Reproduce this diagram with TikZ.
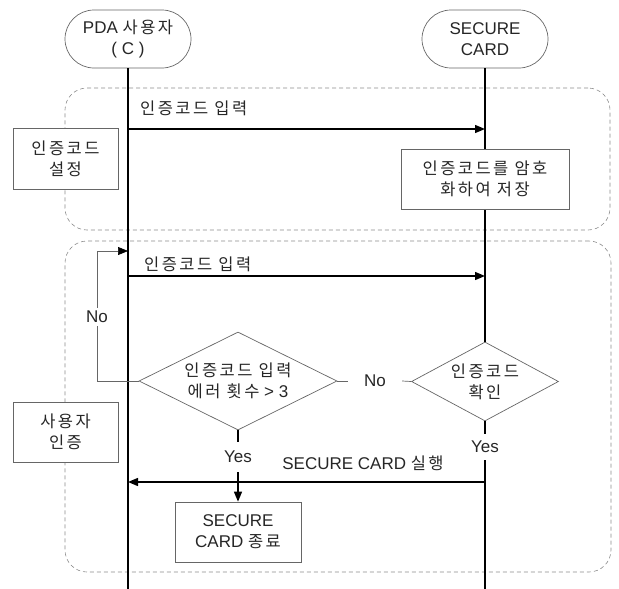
\documentclass[tikz,border=0pt]{standalone}
\usepackage{fontspec}
\setmainfont{Liberation Sans}
\newfontfamily\kr{Noto Sans CJK KR}[LetterSpace=15, Scale=0.97]
\usetikzlibrary{arrows.meta,shapes.geometric}
\begin{document}
\begin{tikzpicture}[x=1pt,y=-1pt,
  font=\fontsize{17}{21}\selectfont,
  every node/.style={text=black!85},
  actor/.style={draw=black!60, line width=0.7pt, rounded corners=29pt, minimum width=126pt, minimum height=58pt, align=center, inner sep=0pt, fill=white},
  life/.style={line width=1.4pt, black},
  msg/.style={line width=1.4pt, black, -{Triangle[length=10pt,width=8pt]}},
  thinln/.style={line width=0.7pt, black!60},
  loopar/.style={line width=0.7pt, black!60, -{Triangle[length=10pt,width=8pt,color=black]}},
  stepbox/.style={draw=black!60, line width=0.7pt, fill=white, align=center, inner sep=0pt},
  group/.style={draw=black!45, line width=0.6pt, dash pattern=on 4pt off 3pt, rounded corners=22pt, inner sep=0pt},
  dec/.style={diamond, draw=black!60, line width=0.7pt, fill=white, align=center, inner sep=0pt},
  lbl/.style={inner sep=1pt}
]
\useasboundingbox (0,0) rectangle (619,589);

% groups
\node[group, minimum width=545pt, minimum height=142pt] (g1) at (337.5,159) {};
\node[group, minimum width=546pt, minimum height=331pt] (g2) at (338,406.5) {};

% actors
\node[actor] (pda) at (128,39) {PDA {\kr 사용자}\\( C )};
\node[actor] (card) at (485,39) {SECURE\\CARD};

% decisions and helper nodes
\node[dec, aspect=2, minimum width=198pt, minimum height=98pt] (d1) at (238,381) {{\kr 인증코드 입력}\\{\kr 에러 횟수} > 3};
\node[dec, aspect=1.8, minimum width=147pt, minimum height=79pt] (d2) at (485,381.5) {{\kr 인증코드}\\{\kr 확인}};
\node[lbl, fill=white, inner ysep=3pt] (no1) at (97,317) {No};
\node[lbl, inner xsep=0pt, minimum width=54pt] (no2) at (375,381) {No};
\node[lbl, minimum height=30pt] (yes1) at (238,457) {Yes};
\node[lbl, minimum height=26pt] (yes2) at (485,447) {Yes};

% lifelines
\coordinate (pdaend) at (128,589);
\coordinate (cardend) at (485,589);
\draw[life] (pda.south) -- (pdaend);
\draw[life] (card.south) -- (d2.north);
\draw[life] (d2.south) -- (yes2.north);
\draw[life] (yes2.south) -- (cardend);

% messages
\coordinate (m1s) at (128,129);
\coordinate (m1e) at (485,129);
\draw[msg] (m1s) -- (m1e);
\node[lbl, anchor=west] (m1l) at (139,108) {\kr 인증코드 입력};

\coordinate (m2s) at (128,276);
\coordinate (m2e) at (485,276);
\draw[msg] (m2s) -- (m2e);
\node[lbl, anchor=west] (m2l) at (143,264) {\kr 인증코드 입력};

\coordinate (m3s) at (485,482);
\coordinate (m3e) at (128,482);
\draw[msg] (m3s) -- (m3e);
\node[lbl] (m3l) at (363,463) {SECURE CARD {\kr 실행}};

% loop back
\coordinate (loopend) at (128,251);
\draw[thinln] (d1.west) -| (no1.south);
\draw[loopar] (no1.north) |- (loopend);

% No between decisions
\draw[thinln] (d1.east) -- (no2.west);
\draw[thinln] (no2.east) -- (d2.west);

% Yes from decision 1
\node[stepbox, minimum width=126pt, minimum height=60pt] (endbox) at (238,532) {SECURE\\CARD {\kr 종료}};
\draw[life] (d1.south) -- (yes1.north);
\draw[msg] (yes1.south) -- (endbox.north);

% boxes
\node[stepbox, minimum width=105pt, minimum height=61pt] (setbox) at (65.5,158.5) {{\kr 인증코드}\\{\kr 설정}};
\node[stepbox, minimum width=168pt, minimum height=60pt] (encbox) at (485,179) {{\kr 인증코드를 암호}\\{\kr 화하여 저장}};
\node[stepbox, minimum width=105pt, minimum height=60pt] (authbox) at (65.5,432) {{\kr 사용자}\\{\kr 인증}};
\end{tikzpicture}
\end{document}
